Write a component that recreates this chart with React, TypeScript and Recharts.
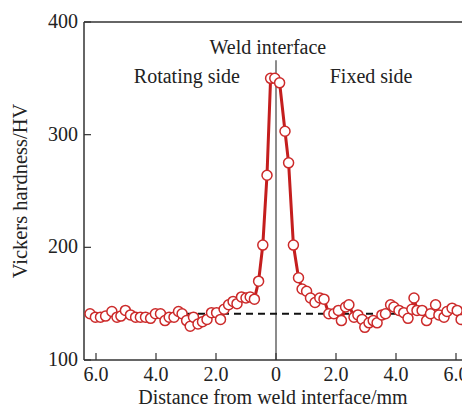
import { LineChart, Line, XAxis, YAxis, ReferenceLine, ReferenceDot } from 'recharts';

// distance from weld interface (mm, rotating side negative) and hardness (HV)
const distance = [
  -6.2, -6.02, -5.85, -5.68, -5.47, -5.3, -5.17, -5.02, -4.85, -4.68, -4.52, -4.35, -4.18, -4.02,
  -3.85, -3.7, -3.56, -3.4, -3.25, -3.13, -2.98, -2.86, -2.75, -2.6, -2.45, -2.3, -2.15, -1.98,
  -1.85, -1.73, -1.58, -1.43, -1.3, -1.15, -1.0, -0.86, -0.72, -0.58, -0.44, -0.3, -0.18, -0.04,
  0.12, 0.3, 0.42, 0.58, 0.75, 0.87, 1.02, 1.15, 1.3, 1.46, 1.6, 1.76, 1.93, 2.08, 2.18, 2.32,
  2.43, 2.6, 2.73, 2.87, 2.96, 3.1, 3.24, 3.37, 3.53, 3.65, 3.82, 3.93, 4.1, 4.26, 4.4, 4.53,
  4.6, 4.7, 4.87, 5.02, 5.15, 5.32, 5.43, 5.6, 5.7, 5.87, 6.04, 6.17,
];
const hardness = [
  141, 138, 138, 139, 143, 138, 139, 144, 140, 138, 138, 138, 137, 141,
  141, 135, 138, 138, 143, 141, 135, 130, 138, 132, 134, 136, 142, 142,
  136, 145, 149, 152, 150, 156, 155, 156, 154, 170, 202, 264, 350, 350,
  346, 303, 275, 202, 173, 163, 161, 155, 151, 155, 154, 141, 141, 144, 135, 147,
  149, 138, 140, 136, 129, 133, 135, 133, 140, 141, 149, 147, 144, 142, 137, 145,
  155, 144, 144, 135, 141, 149, 140, 138, 143, 146, 144, 136,
];

const xTicks = [-6, -4, -2, 0, 2, 4, 6];
const yTicks = [100, 200, 300, 400];
const baseHardness = 141;
const baseRange = [-3.0, 4.3];

const data = distance.map((x, i) => ({ x, hv: hardness[i] }));

const FONT = '"Liberation Serif", "DejaVu Serif", serif';
const AXIS = '#333';

const XTick = ({ x, y, payload }: any) => (
  <g>
    <line x1={x} y1={y} x2={x} y2={y - 7} stroke={AXIS} strokeWidth={1.2} />
    <text x={x} y={y + 21} textAnchor="middle" fontFamily={FONT} fontSize={20} fill="#222">
      {payload.value === 0 ? '0' : Math.abs(payload.value).toFixed(1)}
    </text>
  </g>
);

const YTick = ({ x, y, payload }: any) => (
  <g>
    <line x1={x} y1={y} x2={x + 7} y2={y} stroke={AXIS} strokeWidth={1.2} />
    <text x={x - 6} y={y + 6} textAnchor="end" fontFamily={FONT} fontSize={20} fill="#222">
      {payload.value}
    </text>
  </g>
);

export default function App() {
  return (
    <div style={{ position: 'absolute', left: 0, top: 0, background: '#fff' }}>
      <LineChart width={462} height={407} data={data} margin={{ top: 22, right: 0, bottom: 0, left: 0 }}>
        <XAxis
          type="number"
          dataKey="x"
          domain={[-6.4, 6.2]}
          allowDataOverflow
          ticks={xTicks}
          tick={<XTick />}
          tickLine={false}
          tickSize={0}
          tickMargin={0}
          height={47}
          stroke={AXIS}
          strokeWidth={1.5}
          label={{ value: 'Distance from weld interface/mm', position: 'insideBottom', offset: 3, style: { fontFamily: FONT, fontSize: 20, fill: '#222' } }}
        />
        <YAxis
          type="number"
          domain={[100, 400]}
          ticks={yTicks}
          tick={<YTick />}
          tickLine={false}
          tickSize={0}
          tickMargin={0}
          width={84}
          stroke={AXIS}
          strokeWidth={1.5}
          label={{ value: 'Vickers hardness/HV', angle: -90, position: 'insideLeft', offset: 20, style: { fontFamily: FONT, fontSize: 20.5, fill: '#222', textAnchor: 'middle' } }}
        />
        <ReferenceLine y={400} stroke={AXIS} strokeWidth={1.5} />
        <ReferenceLine segment={[{ x: 0, y: 100 }, { x: 0, y: 366 }]} stroke="#666" strokeWidth={1.5} />
        <ReferenceLine
          segment={[{ x: baseRange[0], y: baseHardness }, { x: baseRange[1], y: baseHardness }]}
          stroke="#111"
          strokeWidth={2}
          strokeDasharray="7 5"
        />
        <Line
          type="linear"
          dataKey="hv"
          stroke="#c41e1e"
          strokeWidth={3}
          dot={{ r: 5, fill: '#fff', stroke: '#cc2a2a', strokeWidth: 1.5 }}
          isAnimationActive={false}
        />
        <ReferenceDot x={-0.27} y={378} r={0} fill="none" stroke="none"
          label={{ value: 'Weld interface', position: 'center', style: { fontFamily: FONT, fontSize: 20, fill: '#222' } }} />
        <ReferenceDot x={-2.97} y={352} r={0} fill="none" stroke="none"
          label={{ value: 'Rotating side', position: 'center', style: { fontFamily: FONT, fontSize: 20, fill: '#222' } }} />
        <ReferenceDot x={3.17} y={352} r={0} fill="none" stroke="none"
          label={{ value: 'Fixed side', position: 'center', style: { fontFamily: FONT, fontSize: 20, fill: '#222' } }} />
      </LineChart>
    </div>
  );
}
